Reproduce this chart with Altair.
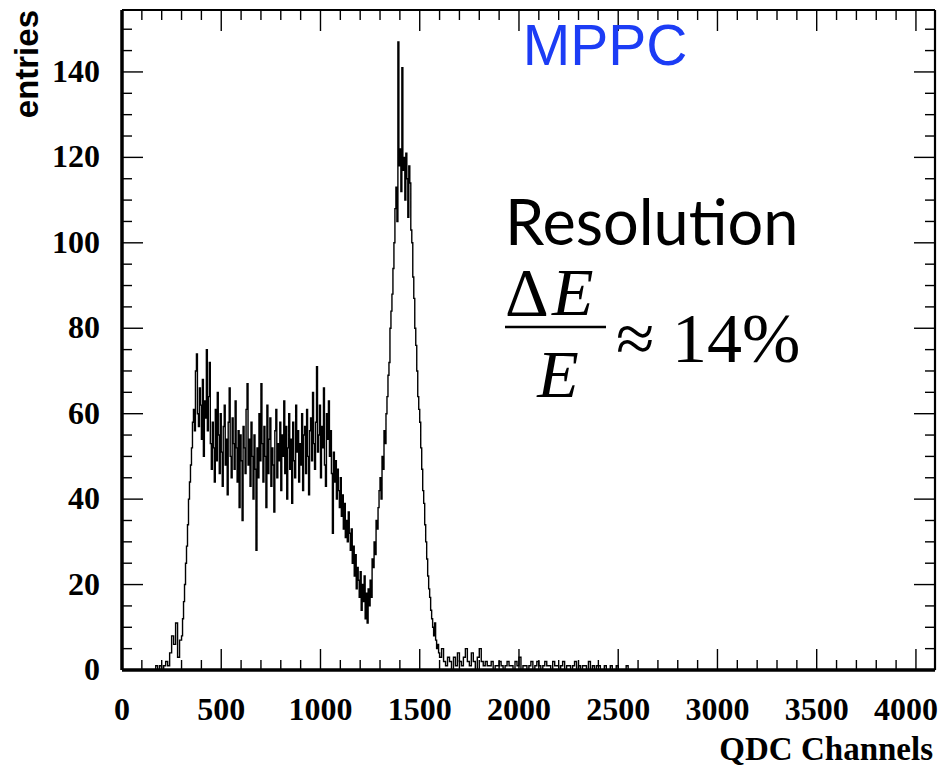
import altair as alt
import pandas as pd

# ---------------- data ----------------
x_max = 4096
y_max = 154.5

# low edge and rise: 10-channel bins starting at 150
rise_start, rise_width = 150, 10
rise = [0, 0, 1, 0, 1, 0, 1, 2, 1, 4, 8, 6, 11, 3, 7]

# main body: 5-channel bins starting at 300
body_start, body_width = 300, 5
body = [8, 12, 16, 20, 25, 29, 34, 40, 44, 48,
        52, 58, 61, 56, 70, 74, 60, 57, 66, 62,
        54, 68, 50, 63, 59, 75, 56, 64, 72, 53,
        47, 58, 52, 44, 61, 49, 65, 55, 46, 60,
        51, 43, 57, 62, 48, 54, 41, 58, 66, 50,
        45, 59, 53, 47, 63, 52, 44, 56, 38, 55,
        49, 35, 57, 52, 46, 61, 67, 48, 54, 43,
        58, 50, 40, 55, 47, 28, 52, 45, 60, 49,
        67, 53, 44, 57, 50, 38, 62, 46, 54, 59,
        43, 52, 48, 37, 56, 61, 45, 53, 49, 58,
        42, 55, 50, 63, 46, 57, 40, 52, 60, 47,
        54, 39, 58, 49, 45, 62, 51, 56, 44, 53,
        48, 60, 42, 55, 57, 46, 61, 50, 41, 56,
        59, 49, 65, 53, 47, 58, 71, 51, 55, 62,
        45, 57, 52, 66, 48, 43, 60, 54, 63, 50,
        56, 46, 32, 51, 44, 49, 40, 47, 42, 38,
        45, 36, 41, 33, 39, 31, 35, 30, 37, 32,
        28, 33, 25, 29, 22, 27, 19, 24, 21, 17,
        23, 14, 20, 16, 22, 12, 18, 11, 19, 15,
        21, 17, 26, 24, 30, 27, 35, 33, 38, 42,
        45, 40, 50, 47, 56, 53, 60, 64, 69, 72,
        80, 84, 88, 94, 100, 108, 113, 105, 147, 118,
        122, 112, 141, 117, 120, 110, 121, 115, 106, 118,
        114, 103, 100, 92, 87, 80, 76, 70, 64, 61,
        58, 52, 47, 42, 39, 34, 30, 26, 22, 19,
        17, 14, 12, 10, 8, 11, 7, 5, 6, 4]

# tail: 10-channel bins starting at 1600
tail_start, tail_width = 1600, 10
tail = [3, 5, 2, 1, 3,
        2, 0, 3, 1, 4, 2, 1, 3, 5, 2,
        1, 4, 2, 0, 3, 5, 2, 1, 2, 1,
        1, 2, 0, 1, 1, 2, 1, 0, 1, 2,
        1, 1, 0, 2, 1, 3, 0, 1, 1, 0,
        1, 2, 0, 1, 2, 1, 0, 1, 2, 1,
        1, 0, 2, 1, 1, 0, 1, 2, 0, 1,
        1, 0, 1, 2, 0, 1, 0, 1, 1, 0,
        2, 0, 1, 0, 1, 1, 0, 0, 1, 0,
        0, 1, 0, 0, 1, 0, 0, 0, 0, 1]

def seg(start, width, vals):
    return [start + i * width for i in range(len(vals))]

channels = ([0] + seg(rise_start, rise_width, rise) + seg(body_start, body_width, body)
            + seg(tail_start, tail_width, tail))
counts = [0] + rise + body + tail
channels += [tail_start + len(tail) * tail_width, x_max]
counts += [0, 0]
hist_df = pd.DataFrame({"ch": channels, "n": counts})

x_major = [0, 500, 1000, 1500, 2000, 2500, 3000, 3500, 4000]
x_minor = [v for v in range(100, 4001, 100) if v % 500 != 0]
y_major = [0, 20, 40, 60, 80, 100, 120, 140]
y_minor = [v for v in range(5, 151, 5) if v % 20 != 0]

W, H = 813, 660
MAJ_PX, MIN_PX = 21, 10
ky = y_max / H          # data units per pixel (y)
kx = x_max / W          # data units per pixel (x)

rows = []
for vals, L in ((x_major, MAJ_PX), (x_minor, MIN_PX)):
    for v in vals:
        rows.append({"x": v, "x2": v, "y": 0, "y2": L * ky, "w": 1.4})
        rows.append({"x": v, "x2": v, "y": y_max, "y2": y_max - L * ky, "w": 1.4})
for vals, L in ((y_major, MAJ_PX), (y_minor, MIN_PX)):
    for v in vals:
        rows.append({"x": 0, "x2": L * kx, "y": v, "y2": v, "w": 1.4})
        rows.append({"x": x_max, "x2": x_max - L * kx, "y": v, "y2": v, "w": 1.4})
# frame
rows.append({"x": 0, "x2": x_max, "y": y_max, "y2": y_max, "w": 2.2})
rows.append({"x": x_max, "x2": x_max, "y": 0, "y2": y_max, "w": 2.2})
rows.append({"x": 0, "x2": x_max, "y": 0, "y2": 0, "w": 3.5})
rows.append({"x": 0, "x2": 0, "y": 0, "y2": y_max, "w": 3.5})
tick_df = pd.DataFrame(rows)

xs = alt.Scale(domain=[0, x_max], nice=False, zero=False)
ys = alt.Scale(domain=[0, y_max], nice=False, zero=False)

hist = alt.Chart(hist_df).mark_line(
    interpolate="step-after", color="black", strokeWidth=1.4
).encode(
    x=alt.X("ch:Q", scale=xs, axis=None),
    y=alt.Y("n:Q", scale=ys, axis=None),
)

ticks = alt.Chart(tick_df).mark_rule(color="black").encode(
    x=alt.X("x:Q", scale=xs, axis=None), x2="x2:Q",
    y=alt.Y("y:Q", scale=ys, axis=None), y2="y2:Q",
    strokeWidth=alt.StrokeWidth("w:Q", scale=None, legend=None),
)

# tick labels (drawn through the scales)
xlab_df = pd.DataFrame({"v": x_major[:-1]})
xlab_last = pd.DataFrame({"v": x_major[-1:]})
ylab_df = pd.DataFrame({"v": y_major})
lab_style = dict(font="Liberation Serif", fontWeight="bold", fontSize=32, color="black")

xlabels = alt.Chart(xlab_df).mark_text(align="center", baseline="alphabetic", **lab_style).encode(
    x=alt.X("v:Q", scale=xs, axis=None), y=alt.value(H + 50), text=alt.Text("v:Q", format="d"))
xlabel_last = alt.Chart(xlab_last).mark_text(align="center", baseline="alphabetic", dx=-10, **lab_style).encode(
    x=alt.X("v:Q", scale=xs, axis=None), y=alt.value(H + 50), text=alt.Text("v:Q", format="d"))
ylabels = alt.Chart(ylab_df).mark_text(align="right", baseline="middle", **lab_style).encode(
    y=alt.Y("v:Q", scale=ys, axis=None), x=alt.value(-22), text=alt.Text("v:Q", format="d"))

def label(text, x, y, size, font, color="black", align="left", italic=False,
          weight="normal", angle=0):
    d = pd.DataFrame({"t": [text]})
    return alt.Chart(d).mark_text(
        font=font, fontSize=size, color=color, align=align, baseline="alphabetic",
        fontStyle="italic" if italic else "normal", fontWeight=weight, angle=angle,
    ).encode(x=alt.value(x), y=alt.value(y), text="t:N")

texts = [
    label("entries", -84, 0, 33, "Liberation Sans", align="right", weight="bold", angle=270),
    label("QDC Channels", W - 2, H + 90, 33, "Liberation Serif", align="right", weight="bold"),
    label("MPPC", 483, 55, 57, "Liberation Sans", color="#1c3cf5", align="center"),
    label("Resolution", 383, 235, 63, "Lato"),
    label("Δ", 383, 305, 68, "Liberation Serif"),
    label("E", 430, 305, 68, "Liberation Serif", italic=True),
    label("E", 436, 387, 68, "Liberation Serif", italic=True, align="center"),
    label("≈ 14%", 494, 352, 70, "Liberation Serif"),
]
frac_bar = alt.Chart(pd.DataFrame({"t": [0]})).mark_rule(
    color="black", strokeWidth=2.5
).encode(x=alt.value(383), x2=alt.value(484), y=alt.value(317))

chart = alt.layer(hist, ticks, xlabels, xlabel_last, ylabels, *texts, frac_bar).properties(
    width=W, height=H,
    autosize=alt.AutoSizeParams(type="none"),
    padding={"left": 114, "top": 2, "right": 4, "bottom": 96},
    background="white",
)

chart.save("out.html", embed_options={"renderer": "svg", "actions": False})
